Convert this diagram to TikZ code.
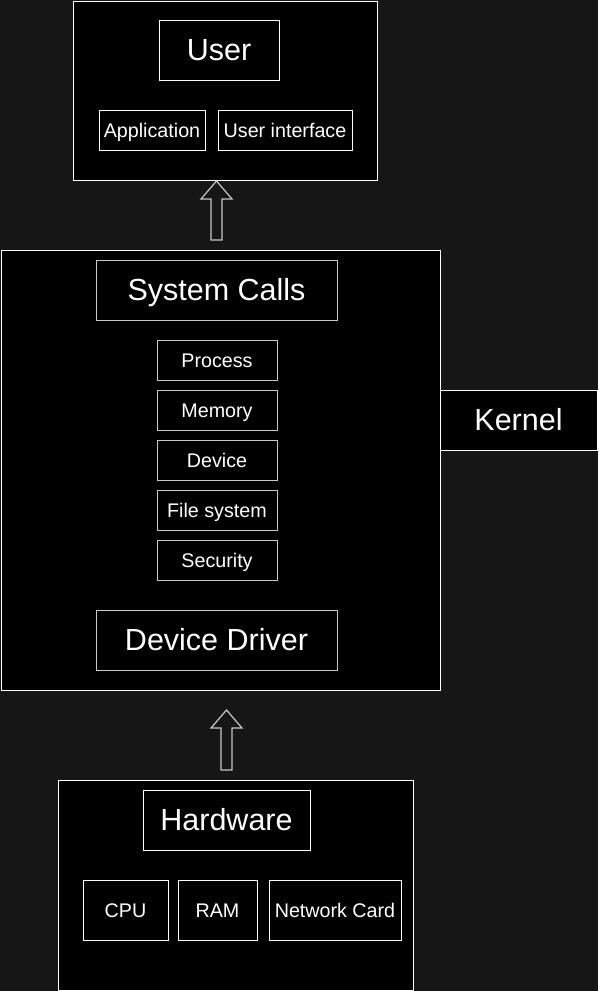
\documentclass[tikz,border=0pt]{standalone}
\usepackage{fontspec}
\setmainfont{Liberation Sans}
\definecolor{bgdark}{RGB}{22,22,22}
\definecolor{edgegray}{RGB}{200,200,200}
\begin{document}
\begin{tikzpicture}[x=1pt,y=-1pt,
	layer/.style={rectangle, draw=white, fill=black, line width=1pt, inner sep=0pt},
	title/.style={rectangle, draw=white, fill=black, line width=1pt, text=white, font=\fontsize{30.5}{36}\selectfont, text height=21.8pt, text depth=0pt},
	item/.style={rectangle, draw=edgegray, fill=black, line width=1pt, text=white, font=\fontsize{19.7}{23}\selectfont, inner sep=2pt, text height=14.1pt, text depth=0pt},
	blockarrow/.style={draw=edgegray, fill=bgdark, line width=1.2pt, line join=miter}]
	\fill[bgdark] (0,0) rectangle (598,991);
	\useasboundingbox (0,0) rectangle (598,991);
	% user layer
	\node (user)    at (225,  90.5)	[layer, minimum width=304pt, minimum height=179pt]	{};
	\node (usr)     at (219,  50)	[title, minimum width=120pt, minimum height=60pt]	{User};
	\node (app)     at (152, 130)	[item, draw=white, minimum width=106pt, minimum height=40pt]	{Application};
	\node (ui)      at (285, 130)	[item, draw=white, minimum width=134pt, minimum height=40pt]	{User interface};
	% kernel layer
	\node (kernel)  at (220.5, 470)	[layer, minimum width=439pt, minimum height=440pt]	{};
	\node (calls)   at (216.5, 290)	[title, draw=edgegray, minimum width=241pt, minimum height=60pt]	{System Calls};
	\node (proc)    at (217, 360)	[item, minimum width=120pt, minimum height=40pt]	{Process};
	\node (mem)     at (217, 410)	[item, minimum width=120pt, minimum height=40pt]	{Memory};
	\node (dev)     at (217, 460)	[item, minimum width=120pt, minimum height=40pt]	{Device};
	\node (fs)      at (217, 510)	[item, minimum width=120pt, minimum height=40pt]	{File system};
	\node (sec)     at (217, 560)	[item, minimum width=120pt, minimum height=40pt]	{Security};
	\node (driver)  at (216.5, 640)	[title, draw=edgegray, minimum width=241pt, minimum height=60pt]	{Device Driver};
	\node (klabel)  at (518.5, 420)	[title, minimum width=157pt, minimum height=60pt]	{Kernel};
	% hardware layer
	\node (hw)      at (235.5, 885)	[layer, minimum width=355pt, minimum height=210pt]	{};
	\node (hwt)     at (226.5, 820)	[title, minimum width=167pt, minimum height=60pt]	{Hardware};
	\node (cpu)     at (125.5, 910)	[item, draw=white, minimum width=85pt, minimum height=60pt]	{CPU};
	\node (ram)     at (217.5, 910)	[item, draw=white, minimum width=79pt, minimum height=60pt]	{RAM};
	\node (nic)     at (335, 910)	[item, draw=white, minimum width=132pt, minimum height=60pt]	{Network Card};
	% block arrows
	\coordinate (up1) at (216.5, 181);
	\coordinate (up2) at (226.5, 710);
	\draw[blockarrow] (up1) -- ++(15.5,18) -- ++(-10,0) -- ++(0,41) -- ++(-11,0) -- ++(0,-41) -- ++(-10,0) -- cycle;
	\draw[blockarrow] (up2) -- ++(15.5,18) -- ++(-10,0) -- ++(0,42) -- ++(-11,0) -- ++(0,-42) -- ++(-10,0) -- cycle;
\end{tikzpicture}
\end{document}
